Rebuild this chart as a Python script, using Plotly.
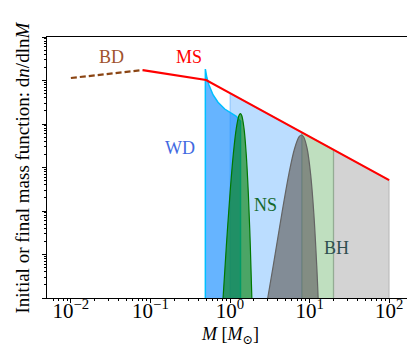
import math
import plotly.graph_objects as go

# ---- data ----
BD_M = [0.01, 0.08]
BD_Y = [0.114, 0.174]

MS_M = [0.08, 0.5, 1.0, 8.0, 20.0, 100.0]
MS_Y = [0.174, 0.1026, 0.0513, 0.00641, 0.002565, 0.000513]

WD_M = [0.49, 0.513, 0.544, 0.611, 0.706, 0.858, 1.04, 1.2, 1.355]
WD_Y = [0.1837, 0.114, 0.0789, 0.0472, 0.0316, 0.0221, 0.0179, 0.0150, 0.0115]

NS_M = [0.818, 0.9, 1.0, 1.1, 1.2, 1.3, 1.35, 1.4, 1.5, 1.6, 1.7, 1.8, 1.882]
NS_Y = [1e-6, 1.59e-5, 2.51e-4, 2.0e-3, 7.95e-3, 0.0159, 0.0174, 0.0159,
        7.95e-3, 2.0e-3, 2.51e-4, 1.59e-5, 1e-6]

BH_M = [2.98, 3.5, 4.5, 5.5, 6.5, 7.4, 7.9, 8.4, 9.3, 10.3, 11.3, 12.3, 12.82]
BH_Y = [1e-6, 5.62e-6, 9.02e-5, 7.14e-4, 2.77e-3, 5.10e-3, 5.58e-3, 5.10e-3,
        2.77e-3, 7.14e-4, 9.02e-5, 5.62e-6, 1e-6]

# initial-mass ranges (progenitors of WD / NS / BH)
RANGE_LO = [1.0, 8.0, 20.0]
RANGE_HI = [8.0, 20.0, 100.0]
RANGE_FILL = ["rgba(30,144,255,0.3)", "rgba(0,128,0,0.25)", "rgba(128,128,128,0.35)"]

LABELS = ["BD", "MS", "WD", "NS", "BH"]
LABEL_COLORS = ["sienna", "red", "royalblue", "rgb(20,105,45)", "darkslategray"]
LABEL_M = [0.0328, 0.305, 0.235, 2.80, 21.5]
LABEL_Y = [0.347, 0.347, 2.8e-3, 1.37e-4, 1.41e-5]

X_TICKS = [0.01, 0.1, 1, 10, 100]
X_TICKTEXT = ["10<sup>−2</sup>", "10<sup>−1</sup>", "10<sup>0</sup>", "10<sup>1</sup>", "10<sup>2</sup>"]

X_TITLE = "<i>M</i> [<i>M</i><sub>⊙</sub>]"
Y_TITLE = "Initial or final mass function: d<i>n</i>/dln<i>M</i>"

Y_LOG_RANGE = [-6, 0]
Y_FLOOR = 10 ** Y_LOG_RANGE[0]

FONT = "'Liberation Serif', 'DejaVu Serif', serif"

fig = go.Figure()

# progenitor ranges under the IMF
for lo, hi, col in zip(RANGE_LO, RANGE_HI, RANGE_FILL):
    ylo = MS_Y[MS_M.index(lo)]
    yhi = MS_Y[MS_M.index(hi)]
    fig.add_trace(go.Scatter(
        x=[lo, lo, hi, hi], y=[Y_FLOOR, ylo, yhi, Y_FLOOR],
        fill="toself", fillcolor=col, mode="lines",
        line=dict(color=col, width=1.2), hoverinfo="skip", showlegend=False))

# WD final mass function
fig.add_trace(go.Scatter(
    x=[WD_M[0]] + WD_M + [WD_M[-1]], y=[Y_FLOOR] + WD_Y + [Y_FLOOR],
    fill="toself", fillcolor="rgba(30,144,255,0.68)", mode="lines",
    line=dict(color="deepskyblue", width=1.5), showlegend=False))

# NS
fig.add_trace(go.Scatter(
    x=NS_M, y=NS_Y, fill="toself", fillcolor="rgba(0,128,0,0.6)", mode="lines",
    line=dict(color="rgb(0,120,0)", width=1.2, shape="spline"), showlegend=False))

# BH
fig.add_trace(go.Scatter(
    x=BH_M, y=BH_Y, fill="toself", fillcolor="rgba(105,105,105,0.7)", mode="lines",
    line=dict(color="rgb(100,100,100)", width=1.2, shape="spline"), showlegend=False))

# IMF: MS and BD
fig.add_trace(go.Scatter(x=MS_M, y=MS_Y, mode="lines",
                         line=dict(color="red", width=2.2), showlegend=False))
fig.add_trace(go.Scatter(x=BD_M, y=BD_Y, mode="lines",
                         line=dict(color="#8B4513", width=2.2, dash="6px,3px"),
                         showlegend=False))

# annotations on log axes take log10 coordinates
for t, c, m, y in zip(LABELS, LABEL_COLORS, LABEL_M, LABEL_Y):
    fig.add_annotation(x=math.log10(m), y=math.log10(y), xref="x", yref="y",
                       text=t, showarrow=False,
                       font=dict(family=FONT, size=18, color=c))

# axis titles as annotations (precise placement)
fig.add_annotation(x=0.5, y=0, xref="paper", yref="paper", yshift=-37,
                   xanchor="center", yanchor="middle", text=X_TITLE,
                   showarrow=False, font=dict(family=FONT, size=18, color="black"))
fig.add_annotation(x=0, y=0.5, xref="paper", yref="paper", xshift=-25,
                   xanchor="center", yanchor="middle", textangle=-90, text=Y_TITLE,
                   showarrow=False, font=dict(family=FONT, size=19, color="black"))

minor_x = [d * 10 ** e for e in range(-3, 3) for d in range(2, 10)]

fig.update_layout(
    width=415, height=348,
    margin=dict(l=39, r=10, t=29, b=58),
    plot_bgcolor="white", paper_bgcolor="white",
    font=dict(family=FONT, size=17, color="black"),
    xaxis=dict(
        type="log", range=[-2.3, 2.3], automargin=False,
        tickmode="array", tickvals=X_TICKS, ticktext=X_TICKTEXT,
        tickfont=dict(family=FONT, size=21), ticklabelstandoff=-10,
        ticks="outside", ticklen=4, tickwidth=0.8, tickcolor="black",
        minor=dict(tickmode="array", tickvals=minor_x, ticks="outside",
                   ticklen=2, tickwidth=0.6, tickcolor="black", showgrid=False),
        showline=True, linecolor="black", linewidth=1, mirror=True,
        showgrid=False, zeroline=False,
    ),
    yaxis=dict(
        type="log", range=Y_LOG_RANGE, dtick=1, automargin=False,
        showticklabels=False,
        ticks="outside", ticklen=4, tickwidth=0.8, tickcolor="black",
        minor=dict(dtick="D1", ticks="outside", ticklen=2, tickwidth=0.6,
                   tickcolor="black", showgrid=False),
        showline=True, linecolor="black", linewidth=1, mirror=True,
        showgrid=False, zeroline=False,
    ),
)

fig.write_html("out.html")
